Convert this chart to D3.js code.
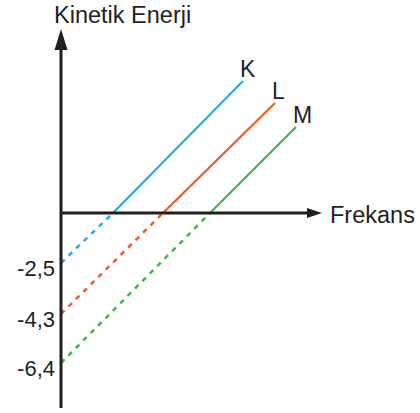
<!DOCTYPE html>
<html>
<head>
<meta charset="utf-8">
<script src="https://cdn.jsdelivr.net/npm/d3@7"></script>
<style>
  html, body { margin: 0; padding: 0; background: #fff; }
  text { font-family: "Liberation Sans", Arial, Helvetica, sans-serif; fill: #231f20; }
</style>
</head>
<body>
<svg id="chart" width="420" height="413"></svg>
<script>
// ---- data ----
const seriesNames = ["K", "L", "M"];
const intercepts = [-2.5, -4.3, -6.4];        // kinetic energy at f = 0
const thresholds = [2.6, 5.1, 7.45];          // threshold frequency (E = 0)
const endFreq = [9.1, 10.7, 11.75];           // last drawn frequency
const endEnergy = [6.6, 5.5, 4.3];            // kinetic energy at last frequency
const seriesColors = ["#29abe2", "#f15a29", "#3db54a"];
const yTickValues = [-2.5, -4.3, -6.4];
const yTickLabels = ["-2,5", "-4,3", "-6,4"];
const xAxisTitle = "Frekans";
const yAxisTitle = "Kinetik Enerji";

// ---- scales ----
const svg = d3.select("#chart");
const x = d3.scaleLinear().domain([0, 13.05]).range([61, 322]);
// schematic (piecewise) energy axis
const y = d3.scaleLinear()
  .domain([9.2, 0, -2.5, -4.3, -6.4, -8.33])
  .range([29, 213, 263, 314, 363, 408]);

const axisColor = "#231f20";

// ---- lines ----
const lineGen = d3.line().x(d => x(d[0])).y(d => y(d[1]));
seriesNames.forEach((name, i) => {
  svg.append("path")
    .attr("d", lineGen([[0, intercepts[i]], [thresholds[i], 0]]))
    .attr("fill", "none")
    .attr("stroke", seriesColors[i])
    .attr("stroke-width", 2.5)
    .attr("stroke-dasharray", "5,5.5");
  svg.append("path")
    .attr("d", lineGen([[thresholds[i], 0], [endFreq[i], endEnergy[i]]]))
    .attr("fill", "none")
    .attr("stroke", seriesColors[i])
    .attr("stroke-width", 2.2);
  svg.append("text")
    .attr("x", x(endFreq[i]) - 3)
    .attr("y", y(endEnergy[i]) - 4)
    .attr("font-size", 23)
    .text(name);
});

// ---- axes ----
const x0 = x(0), y0 = y(0);
svg.append("line")
  .attr("x1", x0).attr("x2", x0)
  .attr("y1", y.range()[y.range().length - 1]).attr("y2", y(9.2) + 18)
  .attr("stroke", axisColor).attr("stroke-width", 3);
svg.append("path")
  .attr("d", d3.line()([[x0, y(9.2)], [x0 - 6.5, y(9.2) + 21], [x0 + 6.5, y(9.2) + 21]]) + "Z")
  .attr("fill", axisColor);
svg.append("line")
  .attr("x1", x0).attr("x2", x(13.05) - 14)
  .attr("y1", y0).attr("y2", y0)
  .attr("stroke", axisColor).attr("stroke-width", 3);
svg.append("path")
  .attr("d", d3.line()([[x(13.05), y0], [x(13.05) - 15, y0 - 5], [x(13.05) - 15, y0 + 5]]) + "Z")
  .attr("fill", axisColor);

const yAxis = d3.axisLeft(y)
  .tickValues(yTickValues)
  .tickSize(0)
  .tickPadding(6)
  .tickFormat((d, i) => yTickLabels[i]);
const gy = svg.append("g").attr("transform", `translate(${x0},0)`).call(yAxis);
gy.select(".domain").remove();
gy.selectAll("text")
  .attr("font-size", 22)
  .attr("font-family", "Liberation Sans, Arial, sans-serif")
  .attr("fill", axisColor)
  .attr("dy", "0.55em");

svg.append("text")
  .attr("x", 54).attr("y", 23)
  .attr("font-size", 23.5)
  .text(yAxisTitle);
svg.append("text")
  .attr("x", 330).attr("y", 223)
  .attr("font-size", 23.5)
  .text(xAxisTitle);
</script>
</body>
</html>
